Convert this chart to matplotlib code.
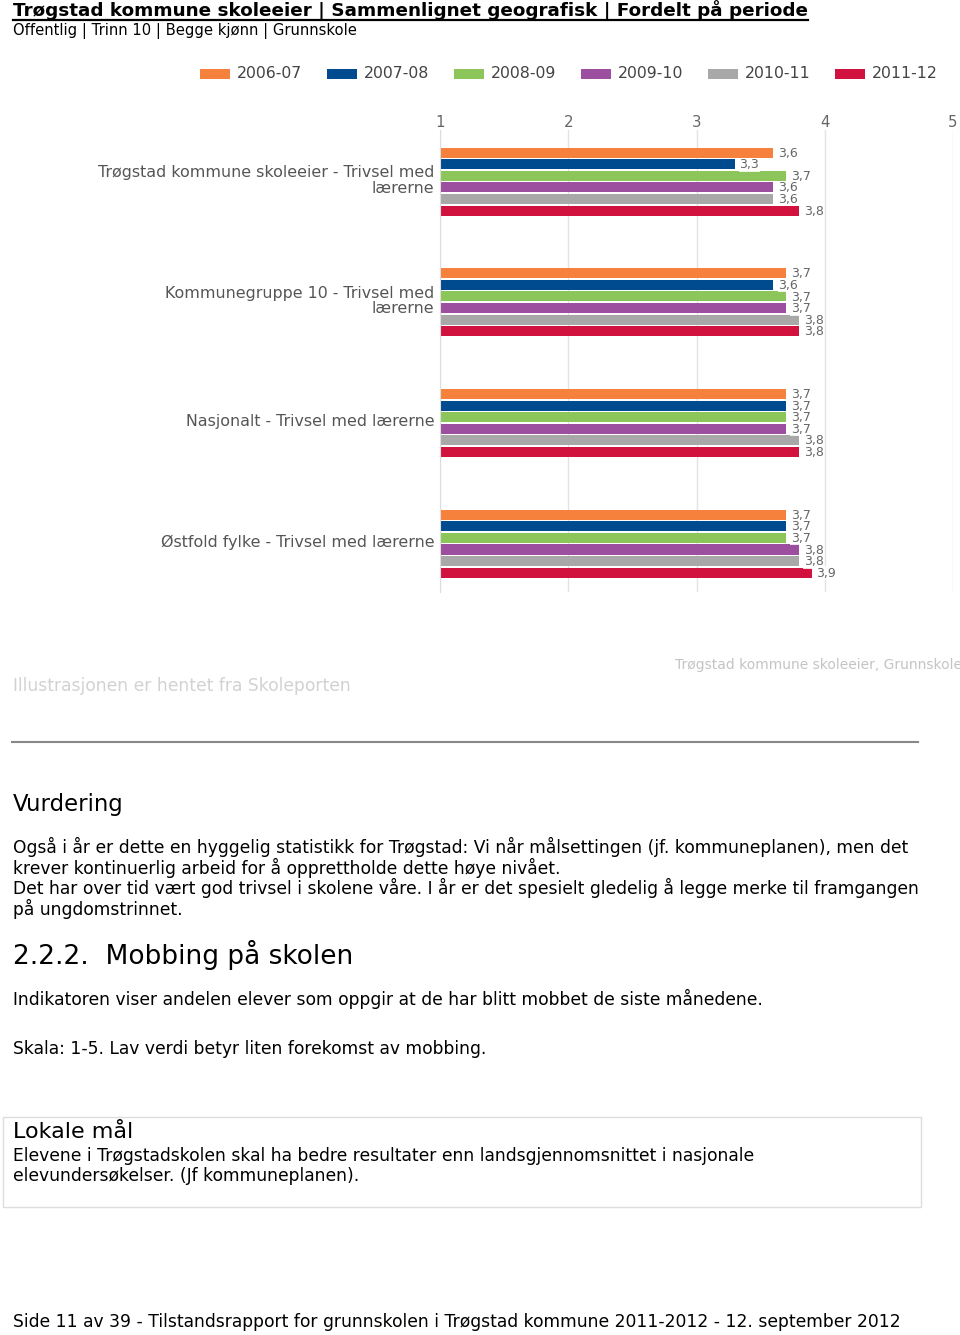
import matplotlib
matplotlib.use("Agg")
import numpy as np
import matplotlib.pyplot as plt
from matplotlib.patches import Rectangle
from matplotlib.lines import Line2D
from matplotlib.transforms import ScaledTranslation

W, H = 960, 1335

periods = ["2006-07", "2007-08", "2008-09", "2009-10", "2010-11", "2011-12"]
colors = ["#F5813D", "#004A8F", "#8CC65A", "#9B4F9E", "#A8A8A8", "#D1123F"]

groups = [
    "Trøgstad kommune skoleeier - Trivsel med\nlærerne",
    "Kommunegruppe 10 - Trivsel med\nlærerne",
    "Nasjonalt - Trivsel med lærerne",
    "Østfold fylke - Trivsel med lærerne",
]

# one list per period, values for the four groups
v_2006 = [3.6, 3.7, 3.7, 3.7]
v_2007 = [3.3, 3.6, 3.7, 3.7]
v_2008 = [3.7, 3.7, 3.7, 3.7]
v_2009 = [3.6, 3.7, 3.7, 3.8]
v_2010 = [3.6, 3.8, 3.8, 3.8]
v_2011 = [3.8, 3.8, 3.8, 3.9]
series = [v_2006, v_2007, v_2008, v_2009, v_2010, v_2011]

x_ticks = [1, 2, 3, 4, 5]


def fx(x):
    return x / W


def fy(y):
    return 1 - y / H


def pt(px):
    return px * 0.72


BODY = pt(17.1)

fig = plt.figure(figsize=(W / 100, H / 100), dpi=100)
fig.patch.set_facecolor("white")

# title + underline
title = fig.text(fx(13), fy(10), "Trøgstad kommune skoleeier | Sammenlignet geografisk | Fordelt på periode",
                 fontsize=pt(18.4), fontweight="bold", va="center", ha="left", color="#000000")
fig.canvas.draw()
bb = title.get_window_extent(fig.canvas.get_renderer())
fig.add_artist(Line2D([bb.x0 / W, bb.x1 / W], [fy(20), fy(20)], color="black", lw=1.6,
                      transform=fig.transFigure))
fig.text(fx(13), fy(31), "Offentlig | Trinn 10 | Begge kjønn | Grunnskole",
         fontsize=pt(14.8), va="center", ha="left")

# legend
for i, (lab, col) in enumerate(zip(periods, colors)):
    x0 = 200 + i * 127
    fig.add_artist(Rectangle((fx(x0), fy(79)), 30 / W, 10 / H, transform=fig.transFigure,
                             facecolor=col, edgecolor="none"))
    fig.text(fx(x0 + 37), fy(74), lab, fontsize=pt(15.7), va="center", ha="left", color="#444444")

# chart
ax = fig.add_axes([fx(440), fy(592), (953 - 440) / W, (592 - 130) / H])
bar_step = 0.096
bar_h = 0.083
idx = np.arange(len(groups))
for j, (vals, col) in enumerate(zip(series, colors)):
    ypos = idx + (j - 2.5) * bar_step
    vals = np.array(vals)
    ax.barh(ypos, vals - 1, left=1, height=bar_h, color=col, zorder=2)
    for y, v in zip(ypos, vals):
        ax.text(v + 0.035, y + 0.005, f"{v:.1f}".replace(".", ","), fontsize=pt(12.5),
                color="#666666", va="center", ha="left", zorder=3,
                bbox=dict(facecolor="white", edgecolor="none", pad=0.3, alpha=0.85))

ax.set_xlim(1, 5)
ax.set_ylim(3.40, -0.427)
ax.xaxis.tick_top()
ax.set_xticks(x_ticks)
ax.set_xticklabels([str(t) for t in x_ticks], fontsize=pt(15), color="#666666")
ax.tick_params(axis="x", length=0, pad=0)
ax.set_yticks(idx)
ax.set_yticklabels(groups, fontsize=pt(15.9), color="#555555", ha="right", linespacing=1.05)
ax.tick_params(axis="y", length=0, pad=4)
for lab in ax.get_yticklabels():
    lab.set_transform(lab.get_transform() + ScaledTranslation(0, 0.03, fig.dpi_scale_trans))
ax.grid(axis="x", color="#e2e2e2", lw=1, zorder=0)
for s in ["top", "bottom", "right"]:
    ax.spines[s].set_visible(False)
ax.spines["left"].set_color("#dddddd")

fig.text(fx(675), fy(665), "Trøgstad kommune skoleeier, Grunnskole", fontsize=pt(13.9),
         color="#c4c4c4", va="center", ha="left")
fig.text(fx(13), fy(686), "Illustrasjonen er hentet fra Skoleporten", fontsize=pt(17.1),
         color="#d2d2d2", va="center", ha="left")

fig.add_artist(Line2D([fx(12), fx(918)], [fy(742), fy(742)], color="#888888", lw=1.5,
                      transform=fig.transFigure))

fig.text(fx(13), fy(805), "Vurdering", fontsize=pt(22.8), va="center", ha="left")
para = [
    "Også i år er dette en hyggelig statistikk for Trøgstad: Vi når målsettingen (jf. kommuneplanen), men det",
    "krever kontinuerlig arbeid for å opprettholde dette høye nivået.",
    "Det har over tid vært god trivsel i skolene våre. I år er det spesielt gledelig å legge merke til framgangen",
    "på ungdomstrinnet.",
]
for k, line in enumerate(para):
    fig.text(fx(13), fy(847 + k * 20.7), line, fontsize=BODY, va="center", ha="left")

fig.text(fx(13), fy(955), "2.2.2.  Mobbing på skolen", fontsize=pt(26.4), va="center", ha="left")
fig.text(fx(13), fy(999), "Indikatoren viser andelen elever som oppgir at de har blitt mobbet de siste månedene.",
         fontsize=BODY, va="center", ha="left")
fig.text(fx(13), fy(1049), "Skala: 1-5. Lav verdi betyr liten forekomst av mobbing.",
         fontsize=BODY, va="center", ha="left")

fig.add_artist(Rectangle((fx(3), fy(1207)), (921 - 3) / W, (1207 - 1117) / H, transform=fig.transFigure,
                         facecolor="none", edgecolor="#dddddd", lw=1))
fig.text(fx(13), fy(1132), "Lokale mål", fontsize=pt(22.3), va="center", ha="left")
fig.text(fx(13), fy(1156), "Elevene i Trøgstadskolen skal ha bedre resultater enn landsgjennomsnittet i nasjonale",
         fontsize=BODY, va="center", ha="left")
fig.text(fx(13), fy(1176), "elevundersøkelser. (Jf kommuneplanen).", fontsize=BODY, va="center", ha="left")

fig.text(fx(13), fy(1322),
         "Side 11 av 39 - Tilstandsrapport for grunnskolen i Trøgstad kommune 2011-2012 - 12. september 2012",
         fontsize=pt(17.1), va="center", ha="left")

fig.savefig("out.png", dpi=100)
